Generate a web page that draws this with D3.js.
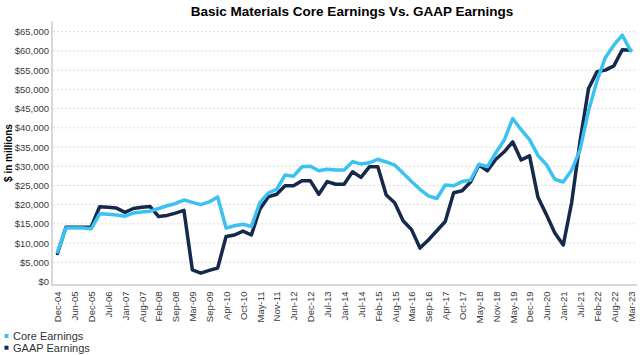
<!DOCTYPE html>
<html><head><meta charset="utf-8">
<script src="https://cdn.jsdelivr.net/npm/d3@7"></script>
<style>
body{margin:0;background:#fff;}
text{font-family:"Liberation Sans",Arial,sans-serif;}
</style>
</head><body>
<svg id="chart" width="640" height="355"></svg>
<script>
const categories = ["Dec-04","Mar-05","Jun-05","Sep-05","Dec-05","Mar-06","Jul-06","Oct-06","Jan-07","Apr-07","Aug-07","Nov-07","Feb-08","May-08","Sep-08","Dec-08","Mar-09","Jun-09","Sep-09","Dec-09","Apr-10","Jul-10","Oct-10","Jan-11","May-11","Aug-11","Nov-11","Feb-12","Jun-12","Sep-12","Dec-12","Mar-13","Jul-13","Oct-13","Jan-14","Apr-14","Jul-14","Oct-14","Feb-15","May-15","Aug-15","Nov-15","Mar-16","Jun-16","Sep-16","Dec-16","Apr-17","Jul-17","Oct-17","Jan-18","May-18","Aug-18","Nov-18","Feb-19","May-19","Aug-19","Dec-19","Mar-20","Jun-20","Sep-20","Jan-21","Apr-21","Jul-21","Oct-21","Feb-22","May-22","Aug-22","Nov-22","Mar-23"];

const tickLabels = ["Dec-04","Jun-05","Dec-05","Jul-06","Jan-07","Aug-07","Feb-08","Sep-08","Mar-09","Sep-09","Apr-10","Oct-10","May-11","Nov-11","Jun-12","Dec-12","Jul-13","Jan-14","Jul-14","Feb-15","Aug-15","Mar-16","Sep-16","Apr-17","Oct-17","May-18","Nov-18","May-19","Dec-19","Jun-20","Jan-21","Jul-21","Feb-22","Aug-22","Mar-23"];

const coreEarnings = [7700,13900,13900,13900,13700,17600,17500,17300,17000,17800,18100,18300,19000,19700,20300,21200,20600,20000,20700,22000,13900,14500,14900,14300,20500,23000,24000,27700,27400,29850,30000,28800,29200,29000,29000,31150,30600,30900,31800,31100,30300,28200,26000,24000,22300,21600,25100,24900,26000,26400,30500,29900,33500,36800,42400,39500,36900,32800,30400,26600,25900,29000,34400,44400,52200,58300,61500,64100,60000];

const gaapEarnings = [7300,14100,14100,14100,14200,19450,19300,19100,18000,19000,19300,19500,16900,17200,17800,18500,3000,2200,2900,3500,11700,12100,13100,12100,18800,22000,22700,24900,24900,26200,26200,22700,26000,25300,25300,28550,27100,29850,29850,22500,20500,15800,13500,8700,10800,13200,15600,23100,23600,25900,30300,28800,31800,33750,36350,31600,32700,21900,17400,12600,9500,20600,36600,50200,54600,55000,56100,60300,60200];

const yTicks = [0,5000,10000,15000,20000,25000,30000,35000,40000,45000,50000,55000,60000,65000];

const seriesNames = ["Core Earnings","GAAP Earnings"];
const seriesColors = ["#3cc2f2","#14294b"];

const svg = d3.select("#chart");
const x = d3.scalePoint().domain(categories).range([57.5, 630.7]);
const y = d3.scaleLinear().domain([0, 65000]).range([281.5, 31.7]);

// gridlines
svg.append("g").selectAll("line").data(yTicks.filter(d => d > 0)).join("line")
  .attr("x1", 53).attr("x2", 637)
  .attr("y1", d => y(d)).attr("y2", d => y(d))
  .attr("stroke", "#dcdcdc").attr("stroke-width", 1).attr("stroke-dasharray", "2,2");

// y axis
const yAxis = svg.append("g").attr("transform", "translate(52,0)")
  .call(d3.axisLeft(y).tickValues(yTicks).tickSize(0).tickPadding(3)
    .tickFormat(d => "$" + d3.format(",")(d)));
yAxis.select(".domain").remove();
yAxis.selectAll("text").attr("font-size", "9.5px").attr("fill", "#3a3a3a")
  .style("font-family", '"Liberation Sans",Arial,sans-serif');

svg.append("line").attr("x1", 52).attr("x2", 52).attr("y1", 21).attr("y2", 286)
  .attr("stroke", "#d9d9d9").attr("stroke-width", 2);

// x axis
const xAxis = svg.append("g").attr("transform", "translate(0,285)")
  .call(d3.axisBottom(x).tickValues(tickLabels).tickSize(0));
xAxis.select(".domain").remove();
xAxis.selectAll("text")
  .attr("transform", "rotate(-90)")
  .attr("x", -6.5).attr("y", 0).attr("dy", "0.35em")
  .attr("text-anchor", "end")
  .attr("font-size", "9.5px").attr("fill", "#3a3a3a")
  .style("font-family", '"Liberation Sans",Arial,sans-serif');

svg.append("line").attr("x1", 52).attr("x2", 637).attr("y1", 285).attr("y2", 285)
  .attr("stroke", "#d9d9d9").attr("stroke-width", 2);

// lines
const line = d3.line().x((d, i) => x(categories[i])).y(d => y(d));
svg.append("path").datum(gaapEarnings).attr("d", line)
  .attr("fill", "none").attr("stroke", seriesColors[1]).attr("stroke-width", 3.5)
  .attr("stroke-linejoin", "round").attr("stroke-linecap", "round");
svg.append("path").datum(coreEarnings).attr("d", line)
  .attr("fill", "none").attr("stroke", seriesColors[0]).attr("stroke-width", 3.5)
  .attr("stroke-linejoin", "round").attr("stroke-linecap", "round");

// title
svg.append("text").attr("x", 352).attr("y", 16).attr("text-anchor", "middle")
  .attr("font-size", "13.5px").attr("font-weight", "bold").attr("fill", "#000")
  .text("Basic Materials Core Earnings Vs. GAAP Earnings");

// y axis title
svg.append("text").attr("transform", "translate(8,153) rotate(-90)")
  .attr("text-anchor", "middle").attr("dy", "0.35em")
  .attr("font-size", "10px").attr("font-weight", "bold").attr("fill", "#000")
  .text("$ in millions");

// legend
const leg = svg.append("g").selectAll("g").data(seriesNames).join("g")
  .attr("transform", (d, i) => `translate(0,${i * 11.7})`);
leg.append("rect").attr("x", 4.5).attr("y", 334).attr("width", 4).attr("height", 4)
  .attr("fill", (d, i) => seriesColors[i]);
leg.append("text").attr("x", 13).attr("y", 340).attr("font-size", "11px").attr("fill", "#333")
  .text(d => d);
</script>
</body></html>
